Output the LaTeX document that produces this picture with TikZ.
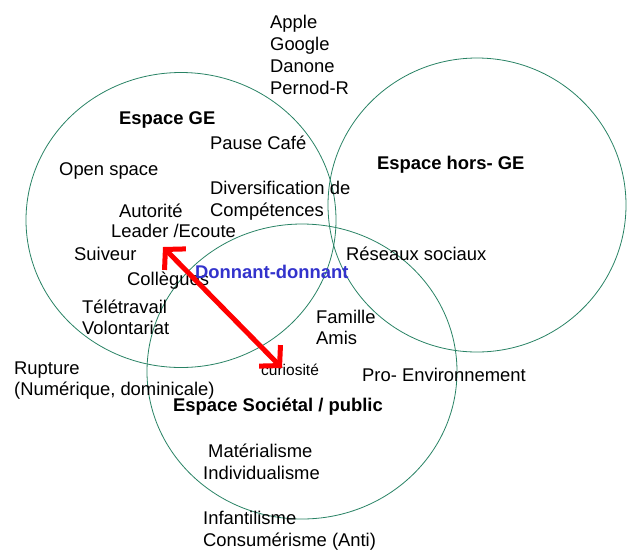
\documentclass[tikz,border=0pt]{standalone}
\usepackage{fontspec}
\setmainfont{Liberation Sans}
\usepackage{tikz}
\usetikzlibrary{arrows.meta}

\definecolor{ringgreen}{RGB}{40,130,100}
\definecolor{dealblue}{RGB}{51,51,204}

\tikzset{
  word/.style={anchor=base west, inner sep=0pt, font=\fontsize{18.4}{22}\selectfont},
  title/.style={word, font=\fontsize{18.4}{22}\selectfont\bfseries},
  ring/.style={draw=ringgreen, line width=0.8pt}
}

\begin{document}
\begin{tikzpicture}[x=1pt, y=-1pt]
		\useasboundingbox (0,0) rectangle (627,550);
		% circles
		\draw[ring] (181,220) ellipse [x radius=155, y radius=147.5];
		\draw[ring] (477,205) ellipse [x radius=149, y radius=147];
		\draw[ring] (302,371.5) ellipse [x radius=155, y radius=147.5];
		% companies
		\node[word] (apple) at (270,28.5) {Apple};
		\node[word] (google) at (270,50.5) {Google};
		\node[word] (danone) at (270,72.5) {Danone};
		\node[word] (pernod) at (270,94.5) {Pernod-R};
		% espace GE
		\node[title] (ge) at (119,124.8) {Espace GE};
		\node[word] (pause) at (210,149.2) {Pause Café};
		\node[word] (open) at (59,175.5) {Open space};
		\node[word] (divers) at (210,194.2) {Diversification de};
		\node[word] (compet) at (210,216.5) {Compétences};
		\node[word] (autor) at (119,217.2) {Autorité};
		\node[word] (leader) at (111,237.2) {Leader /Ecoute};
		\node[word] (suiveur) at (74,260.5) {Suiveur};
		\node[word] (collegues) at (127,285.5) {Collègues};
		\node[word] (tele) at (82,313.2) {Télétravail};
		\node[word] (volont) at (82,334.8) {Volontariat};
		% espace hors GE
		\node[title] (horsge) at (377,169.2) {Espace hors- GE};
		\node[word] (reseaux) at (346,260.5) {Réseaux sociaux};
		\node[word] (famille) at (316,323.2) {Famille};
		\node[word] (amis) at (316,344.8) {Amis};
		% centre
		\node[title, text=dealblue] (donnant) at (195,278) {Donnant-donnant};
		\node[word, font=\fontsize{15.5}{18}\selectfont] (curio) at (261,375) {curiosité};
		% espace societal
		\node[word] (rupture) at (14,374.2) {Rupture};
		\node[word] (numer) at (14,395.8) {(Numérique, dominicale)};
		\node[word] (proenv) at (362,381.5) {Pro- Environnement};
		\node[title] (societal) at (173,411.5) {Espace Sociétal / public};
		\node[word] (materi) at (208,457.2) {Matérialisme};
		\node[word] (indiv) at (203,479.2) {Individualisme};
		\node[word] (infant) at (203,524.2) {Infantilisme};
		\node[word] (consum) at (203,546.5) {Consumérisme (Anti)};
		% red arrow
		\coordinate (tipA) at (163,247);
		\coordinate (tipB) at (282,368);
		\draw[red, line width=5pt, {Straight Barb[length=14pt,width=30pt]}-{Straight Barb[length=14pt,width=30pt]}] (tipA) -- (tipB);
	\end{tikzpicture}
\end{document}
